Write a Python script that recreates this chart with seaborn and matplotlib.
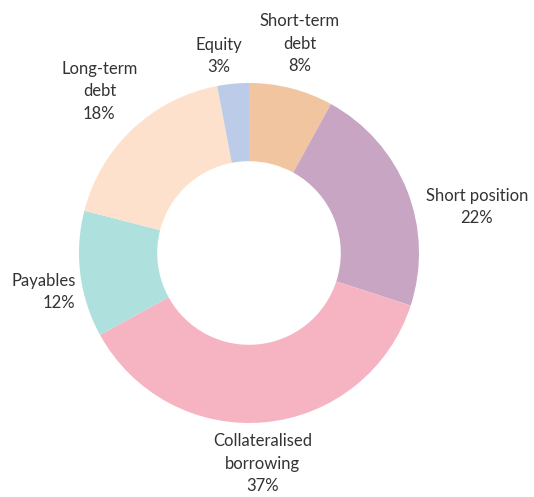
import matplotlib
matplotlib.use("Agg")
import matplotlib.pyplot as plt
import seaborn as sns

# Liability mix, share in percent (clockwise from 12 o'clock)
categories = ["Short-term\ndebt", "Short position", "Collateralised\nborrowing",
              "Payables", "Long-term\ndebt", "Equity"]
shares = [8, 22, 37, 12, 18, 3]
colors = ["#f0c5a0", "#c8a5c3", "#f6b4c3", "#aee0dd", "#fde1cd", "#bccbe7"]

# where each label sits (data units, pie radius = 1) and how it is aligned
label_pos = [(0.30, 1.23, "center"), (1.34, 0.27, "center"), (0.08, -1.24, "center"),
             (-1.02, -0.23, "right"), (-0.88, 0.95, "center"), (-0.18, 1.16, "center")]

sns.set_theme(style="white")
plt.rcParams['font.family'] = ['Lato', 'DejaVu Sans']

fig = plt.figure(figsize=(5.34, 4.97), dpi=100)
cx, cy, r = 249 / 534, 1 - 253 / 497, 170
ax = fig.add_axes([cx - r / 534, cy - r / 497, 2 * r / 534, 2 * r / 497])

wedges, _ = ax.pie(shares, colors=sns.color_palette(colors), startangle=90, counterclock=False,
                   radius=1, wedgeprops=dict(width=0.46, linewidth=0))

for cat, val, (x, y, ha) in zip(categories, shares, label_pos):
    ax.text(x, y, "{}\n{}%".format(cat, val), ha=ha, va="center", fontsize=12,
            color="#333333", linespacing=1.5, multialignment=ha)

ax.set_xlim(-1, 1)
ax.set_ylim(-1, 1)
ax.set_aspect("equal")
ax.axis("off")

fig.savefig("out.png", dpi=100)
